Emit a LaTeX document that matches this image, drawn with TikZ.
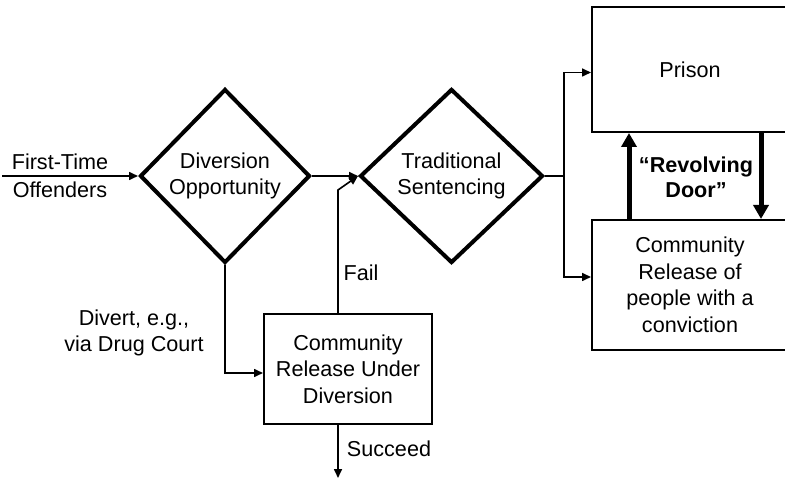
\documentclass[tikz,border=0pt]{standalone}
\usepackage{fontspec}
\setmainfont{Liberation Sans}
\usetikzlibrary{shapes.geometric,arrows.meta}
\tikzset{
  txt/.style={font=\fontsize{21.6}{26.5}\selectfont,align=center,inner sep=0pt},
  decision/.style={txt,draw,diamond,line width=4pt,minimum width=170pt,minimum height=174pt},
  stepbox/.style={txt,draw,rectangle,line width=2pt,minimum width=168pt,minimum height=110pt},
  outbox/.style={txt,draw,rectangle,line width=2pt,minimum width=196pt},
  flow/.style={line width=1.6pt,-{Triangle[length=9pt,width=8pt]}},
  bigflow/.style={line width=5pt,-{Triangle[length=14pt,width=15pt]}}
}
\begin{document}
\begin{tikzpicture}[x=1pt,y=-1pt]
\useasboundingbox (0,0) rectangle (785,478);
\clip (0,0) rectangle (785,478);
% decisions
\node[decision] (divopp) at (225,176) {Diversion\\Opportunity};
\node[decision,minimum width=183pt] (tradsent) at (451.5,176) {Traditional\\Sentencing};
% boxes
\node[stepbox] (crud) at (348,369) {Community\\Release Under\\Diversion};
\node[outbox,minimum height=125pt] (prison) at (690,69.5) {Prison};
\node[outbox,minimum height=130pt] (commrel) at (690,285) {Community\\ Release of\\people with a\\conviction};
% free ends and bends
\coordinate (start) at (2,176);
\coordinate (failbend) at (338,190);
\coordinate (succeedend) at (338,478);
\coordinate (split) at (564,176);
% labels
\node[txt] (firsttime) at (60,176) {First-Time\\[1pt]Offenders};
\node[txt] (divert) at (134,333) {Divert, e.g.,\\via Drug Court};
\node[txt] (fail) at (361,273) {Fail};
\node[txt] (succeed) at (389,449) {Succeed};
\node[txt,font=\fontsize{21.6}{25}\selectfont\bfseries] (revolving) at (696,177) {``Revolving\\Door''};
% connectors
\draw[flow] (start) -- (divopp.west);
\draw[flow] (divopp.east) -- (tradsent.west);
\draw[flow] (divopp.south) |- ([yshift=-4pt]crud.west);
\draw[flow] (crud.north -| failbend) -- (failbend) -- (tradsent.west);
\draw[flow] (crud.south -| failbend) -- (succeedend);
\draw[flow] (tradsent.east) -- (split) |- ([yshift=-3pt]prison.west);
\draw[flow] (split) |- ([yshift=8pt]commrel.west);
\draw[bigflow] ([xshift=-61pt]commrel.north) -- ([xshift=-61pt]prison.south);
\draw[bigflow] ([xshift=71pt]prison.south) -- ([xshift=71pt]commrel.north);
\end{tikzpicture}
\end{document}
